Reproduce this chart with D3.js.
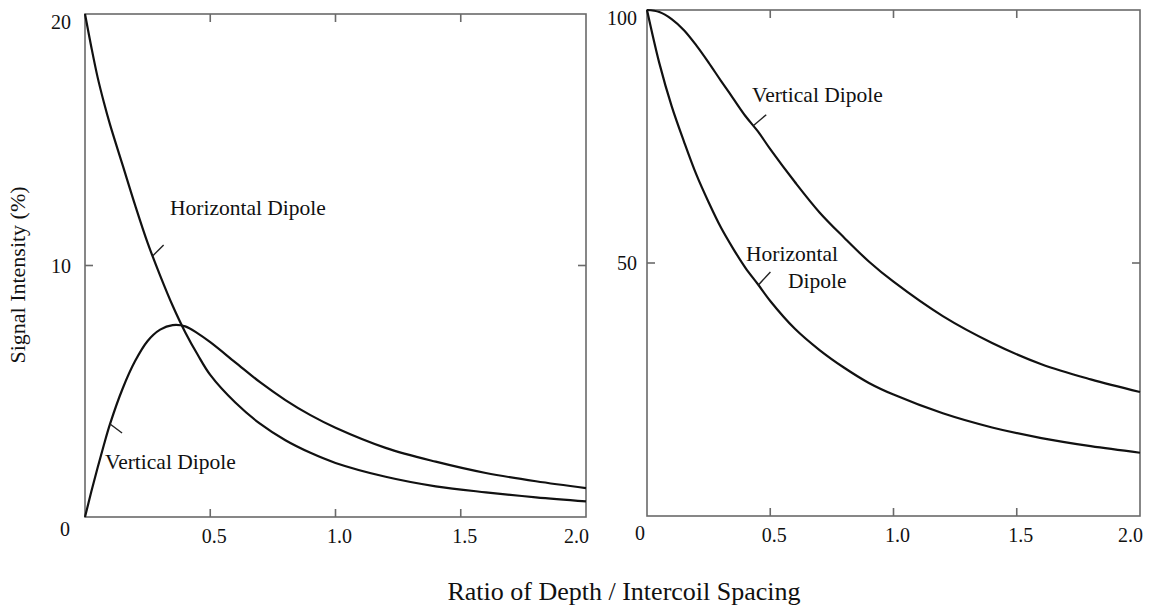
<!DOCTYPE html>
<html>
<head>
<meta charset="utf-8">
<script src="https://cdn.jsdelivr.net/npm/d3@7"></script>
<style>
  html, body { margin: 0; padding: 0; background: #fff; }
  svg { display: block; }
  text { font-family: "Liberation Serif", "Times New Roman", serif; fill: #111; }
</style>
</head>
<body>
<svg id="chart" width="1161" height="607"></svg>
<script>
// ---- data ----
const depthLeft = [0, 0.025, 0.05, 0.075, 0.1, 0.15, 0.2, 0.25, 0.3, 0.35, 0.4, 0.45, 0.5, 0.6, 0.7, 0.8, 0.9, 1.0, 1.2, 1.4, 1.6, 1.8, 2.0];
const leftHorizontal = [20, 18.7, 17.5, 16.5, 15.6, 14.0, 12.4, 10.9, 9.6, 8.4, 7.35, 6.45, 5.65, 4.55, 3.7, 3.05, 2.55, 2.15, 1.6, 1.22, 0.98, 0.78, 0.62];
const leftVertical   = [0, 1.0, 1.95, 2.85, 3.7, 5.1, 6.2, 7.0, 7.45, 7.63, 7.58, 7.3, 6.95, 6.15, 5.35, 4.65, 4.05, 3.55, 2.75, 2.2, 1.75, 1.42, 1.15];

const depthRight = [0, 0.05, 0.1, 0.15, 0.2, 0.25, 0.3, 0.35, 0.4, 0.45, 0.5, 0.6, 0.7, 0.8, 0.9, 1.0, 1.2, 1.4, 1.6, 1.8, 2.0];
const rightVertical   = [100, 99.6, 98.2, 96, 93, 89.6, 86, 82.5, 79, 76, 72.5, 66, 60, 55, 50.3, 46.3, 39.5, 34.2, 30, 27, 24.5];
const rightHorizontal = [100, 89.5, 81, 74, 67.5, 62, 57, 52.8, 49, 45.8, 42.5, 37, 32.8, 29.3, 26.3, 24, 20.3, 17.5, 15.4, 13.8, 12.5];

const xTickValues = [0.5, 1.0, 1.5, 2.0];
const xTickLabels = ["0.5", "1.0", "1.5", "2.0"];
const leftYTicks = [10, 20];
const leftYLabels = ["10", "20"];
const rightYTicks = [50, 100];
const rightYLabels = ["50", "100"];

const yTitle = "Signal Intensity (%)";
const xTitle = "Ratio of Depth / Intercoil Spacing";

// ---- layout ----
const svg = d3.select("#chart");
const frameColor = "#6a6a6a";
const annSize = 21.5;

const panels = [
  {
    xs: d3.scaleLinear().domain([0, 2]).range([85, 586]),
    ys: d3.scaleLinear().domain([0, 20]).range([517, 14]),
    depth: depthLeft,
    series: [leftHorizontal, leftVertical],
    yTicks: leftYTicks, yLabels: leftYLabels, midTick: 10,
    zeroLabel: { dx: -20, dy: 19 },
    yLabelX: 71,
    labels: [
      { lines: ["Horizontal Dipole"], x: 170, y: 215 },
      { lines: ["Vertical Dipole"], x: 105, y: 469 }
    ],
    leaders: [
      { s: 0, at: 0.27, dx: 11, dy: -11 },
      { s: 1, at: 0.10, dx: 12, dy: 9 }
    ]
  },
  {
    xs: d3.scaleLinear().domain([0, 2]).range([647, 1140]),
    ys: d3.scaleLinear().domain([0, 100]).range([516, 10]),
    depth: depthRight,
    series: [rightVertical, rightHorizontal],
    yTicks: rightYTicks, yLabels: rightYLabels, midTick: 50,
    zeroLabel: { dx: -7, dy: 24 },
    yLabelX: 637,
    labels: [
      { lines: ["Vertical Dipole"], x: 752, y: 102 },
      { lines: ["Horizontal", "Dipole"], x: 746, y: 261, second: 788, lh: 27 }
    ],
    leaders: [
      { s: 0, at: 0.431, dx: 13, dy: -11 },
      { s: 1, at: 0.452, dx: 12, dy: -13 }
    ]
  }
];

panels.forEach(p => {
  const g = svg.append("g");
  const [x0, x1] = p.xs.range();
  const [yb, yt] = p.ys.range();

  // frame
  g.append("rect")
    .attr("x", x0).attr("y", yt)
    .attr("width", x1 - x0).attr("height", yb - yt)
    .attr("fill", "none").attr("stroke", frameColor).attr("stroke-width", 1.6);

  // x ticks (top & bottom, inward)
  const inner = xTickValues.filter(v => v < 2);
  inner.forEach(v => {
    g.append("line").attr("x1", p.xs(v)).attr("x2", p.xs(v))
      .attr("y1", yb).attr("y2", yb - 8).attr("stroke", frameColor).attr("stroke-width", 1.6);
    g.append("line").attr("x1", p.xs(v)).attr("x2", p.xs(v))
      .attr("y1", yt).attr("y2", yt + 8).attr("stroke", frameColor).attr("stroke-width", 1.6);
  });
  // mid y ticks (left & right, inward)
  g.append("line").attr("x1", x0).attr("x2", x0 + 8)
    .attr("y1", p.ys(p.midTick)).attr("y2", p.ys(p.midTick)).attr("stroke", frameColor).attr("stroke-width", 1.6);
  g.append("line").attr("x1", x1).attr("x2", x1 - 8)
    .attr("y1", p.ys(p.midTick)).attr("y2", p.ys(p.midTick)).attr("stroke", frameColor).attr("stroke-width", 1.6);

  // x tick labels
  xTickValues.forEach((v, i) => {
    const last = v === 2;
    g.append("text")
      .attr("x", last ? p.xs(v) + 3 : p.xs(v) + 4)
      .attr("y", yb + 26)
      .attr("text-anchor", last ? "end" : "middle")
      .attr("font-size", 20)
      .text(xTickLabels[i]);
  });
  // zero label
  g.append("text")
    .attr("x", p.xs(0) + p.zeroLabel.dx).attr("y", yb + p.zeroLabel.dy)
    .attr("text-anchor", "middle").attr("font-size", 20).text("0");

  // y tick labels
  p.yTicks.forEach((v, i) => {
    const top = v === p.ys.domain()[1];
    g.append("text")
      .attr("x", p.yLabelX)
      .attr("y", p.ys(v) + (top ? 15 : 7))
      .attr("text-anchor", "end")
      .attr("font-size", 20)
      .text(p.yLabels[i]);
  });

  // curves
  const line = d3.line()
    .x((d, i) => p.xs(p.depth[i]))
    .y(d => p.ys(d))
    .curve(d3.curveCatmullRom.alpha(0.5));
  p.series.forEach(s => {
    g.append("path").attr("d", line(s))
      .attr("fill", "none").attr("stroke", "#111").attr("stroke-width", 2.2)
      .attr("stroke-linejoin", "round");
  });

  // leaders
  p.leaders.forEach(l => {
    const s = p.series[l.s];
    const yv = d3.scaleLinear().domain(p.depth).range(s)(l.at);
    const px = p.xs(l.at), py = p.ys(yv);
    g.append("line").attr("x1", px).attr("y1", py)
      .attr("x2", px + l.dx).attr("y2", py + l.dy)
      .attr("stroke", "#222").attr("stroke-width", 1.4);
  });

  // labels
  p.labels.forEach(lb => {
    lb.lines.forEach((t, i) => {
      g.append("text")
        .attr("x", i === 0 ? lb.x : lb.second)
        .attr("y", lb.y + i * (lb.lh || 0))
        .attr("font-size", annSize)
        .text(t);
    });
  });
});

// axis titles
svg.append("text")
  .attr("transform", "translate(25,275) rotate(-90)")
  .attr("text-anchor", "middle")
  .attr("font-size", 22)
  .text(yTitle);

svg.append("text")
  .attr("x", 624).attr("y", 600)
  .attr("text-anchor", "middle")
  .attr("font-size", 26)
  .text(xTitle);
</script>
</body>
</html>
